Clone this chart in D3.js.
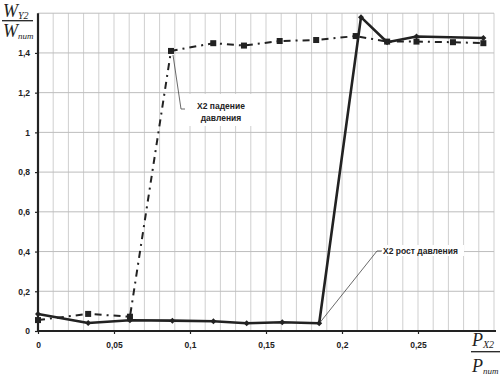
<!DOCTYPE html>
<html><head><meta charset="utf-8">
<script src="https://cdn.jsdelivr.net/npm/d3@7"></script>
<style>
body{margin:0;background:#fff;}
svg{display:block;}
.tk{font-family:"Liberation Sans",Arial,sans-serif;font-weight:bold;font-size:8.5px;fill:#222;}
.lbl{font-family:"Liberation Sans",Arial,sans-serif;font-weight:bold;font-size:8.5px;fill:#222;}
.ttl{font-family:"Liberation Serif","Times New Roman",serif;font-style:italic;fill:#222;}
</style></head>
<body>
<script>
// ---- data ----
const xTicks = [0, 0.05, 0.1, 0.15, 0.2, 0.25];
const yTicks = [0, 0.2, 0.4, 0.6, 0.8, 1, 1.2, 1.4];
const xRise = [0, 0.033, 0.0605, 0.0884, 0.1154, 0.1373, 0.1607, 0.185, 0.2125, 0.2297, 0.249, 0.293];
const yRise = [0.086, 0.040, 0.054, 0.052, 0.049, 0.039, 0.044, 0.039, 1.58, 1.454, 1.483, 1.475];
const xFall = [0, 0.033, 0.0605, 0.0875, 0.1153, 0.1355, 0.159, 0.183, 0.209, 0.2297, 0.249, 0.273, 0.293];
const yFall = [0.055, 0.086, 0.072, 1.41, 1.449, 1.437, 1.46, 1.465, 1.485, 1.457, 1.457, 1.454, 1.449];
const labelRise = "X2 рост давления";
const labelFall = ["X2 падение", "давления"];

const W = 504, H = 379;
const svg = d3.select("body").append("svg").attr("width", W).attr("height", H);
const x = d3.scaleLinear().domain([0, 0.3]).range([38, 494]);
const y = d3.scaleLinear().domain([0, 1.6]).range([331, 13.2]);
const fmt = d => String(d).replace(".", ",");

// grid
const g = svg.append("g");
g.selectAll(".vg").data(d3.range(1, 31).map(i => i / 100)).enter().append("line")
  .attr("x1", d => x(d)).attr("x2", d => x(d)).attr("y1", y(0)).attr("y2", y(1.6))
  .attr("stroke", "#cfcfcf").attr("stroke-width", 1);
g.selectAll(".hg").data([0.2, 0.4, 0.6, 0.8, 1, 1.2, 1.4, 1.6]).enter().append("line")
  .attr("x1", x(0)).attr("x2", x(0.3)).attr("y1", d => y(d)).attr("y2", d => y(d))
  .attr("stroke", "#bdbdbd").attr("stroke-width", 1);

// label boxes (white)
svg.append("rect").attr("x", 178).attr("y", 94).attr("width", 85).attr("height", 32).attr("fill", "#fff");
svg.append("rect").attr("x", 381).attr("y", 245).attr("width", 83).attr("height", 11).attr("fill", "#fff");

// axes
const ax = svg.append("g").attr("transform", `translate(0,${y(0)})`)
  .call(d3.axisBottom(x).tickValues(xTicks).tickSize(3).tickPadding(8).tickFormat(fmt));
const ay = svg.append("g").attr("transform", `translate(${x(0)},0)`)
  .call(d3.axisLeft(y).tickValues(yTicks).tickSize(3).tickPadding(5).tickFormat(fmt));
[ax, ay].forEach(a => {
  a.select(".domain").remove();
  a.selectAll("line").attr("stroke", "#222").attr("stroke-width", 1.2);
  a.selectAll("text").attr("class", "tk").attr("font-family", null).attr("font-size", null);
});
svg.append("line").attr("x1", x(0)).attr("x2", x(0)).attr("y1", y(1.6)).attr("y2", y(0) + 1)
  .attr("stroke", "#222").attr("stroke-width", 2.2);
svg.append("line").attr("x1", x(0) - 1).attr("x2", x(0.3) + 2).attr("y1", y(0)).attr("y2", y(0))
  .attr("stroke", "#222").attr("stroke-width", 2.2);

// series
const line = d3.line().x(d => x(d[0])).y(d => y(d[1]));
const fall = xFall.map((v, i) => [v, yFall[i]]);
const rise = xRise.map((v, i) => [v, yRise[i]]);
svg.append("path").datum(fall).attr("d", line).attr("fill", "none")
  .attr("stroke", "#222").attr("stroke-width", 2).attr("stroke-dasharray", "7,5,2,5");
svg.selectAll(".mf").data(fall).enter().append("rect")
  .attr("x", d => x(d[0]) - 3).attr("y", d => y(d[1]) - 3).attr("width", 6).attr("height", 6).attr("fill", "#222");
svg.append("path").datum(rise).attr("d", line).attr("fill", "none")
  .attr("stroke", "#222").attr("stroke-width", 2.6).attr("stroke-linejoin", "round");
svg.selectAll(".mr").data(rise).enter().append("path")
  .attr("d", d => { const cx = x(d[0]), cy = y(d[1]); return `M${cx-3},${cy}L${cx},${cy-3}L${cx+3},${cy}L${cx},${cy+3}Z`; })
  .attr("fill", "#222");

// leader lines
svg.append("path").attr("d", `M${x(xFall[3]) + 2},${y(yFall[3]) + 4}L181,109L185,109`)
  .attr("fill", "none").attr("stroke", "#444").attr("stroke-width", 0.8);
svg.append("path").attr("d", `M${x(xRise[7]) + 1},${y(yRise[7]) - 1}L377,251L382,251`)
  .attr("fill", "none").attr("stroke", "#444").attr("stroke-width", 0.8);

// labels
svg.append("text").attr("class", "lbl").attr("x", 221).attr("y", 109).attr("text-anchor", "middle").text(labelFall[0]);
svg.append("text").attr("class", "lbl").attr("x", 221).attr("y", 121).attr("text-anchor", "middle").text(labelFall[1]);
svg.append("text").attr("class", "lbl").attr("x", 383).attr("y", 254).text(labelRise);

// axis titles
function frac(x0, top, line, bot, topSub, botSub, letter, w, fs) {
  const t1 = svg.append("text").attr("class", "ttl").attr("x", x0).attr("y", top).attr("font-size", fs);
  t1.append("tspan").text(letter);
  t1.append("tspan").attr("font-size", 10).attr("dy", 2).text(topSub);
  svg.append("line").attr("x1", x0 - 1).attr("x2", x0 - 1 + w).attr("y1", line).attr("y2", line)
    .attr("stroke", "#222").attr("stroke-width", 1.3);
  const t2 = svg.append("text").attr("class", "ttl").attr("x", x0).attr("y", bot).attr("font-size", fs);
  t2.append("tspan").text(letter);
  t2.append("tspan").attr("font-size", 9).attr("dy", 2).text(botSub);
}
frac(3, 17, 20.7, 37, "Y2", "num", "W", 31, 18);
frac(472, 346, 351.7, 372, "X2", "num", "P", 29, 18);
</script>
</body></html>
